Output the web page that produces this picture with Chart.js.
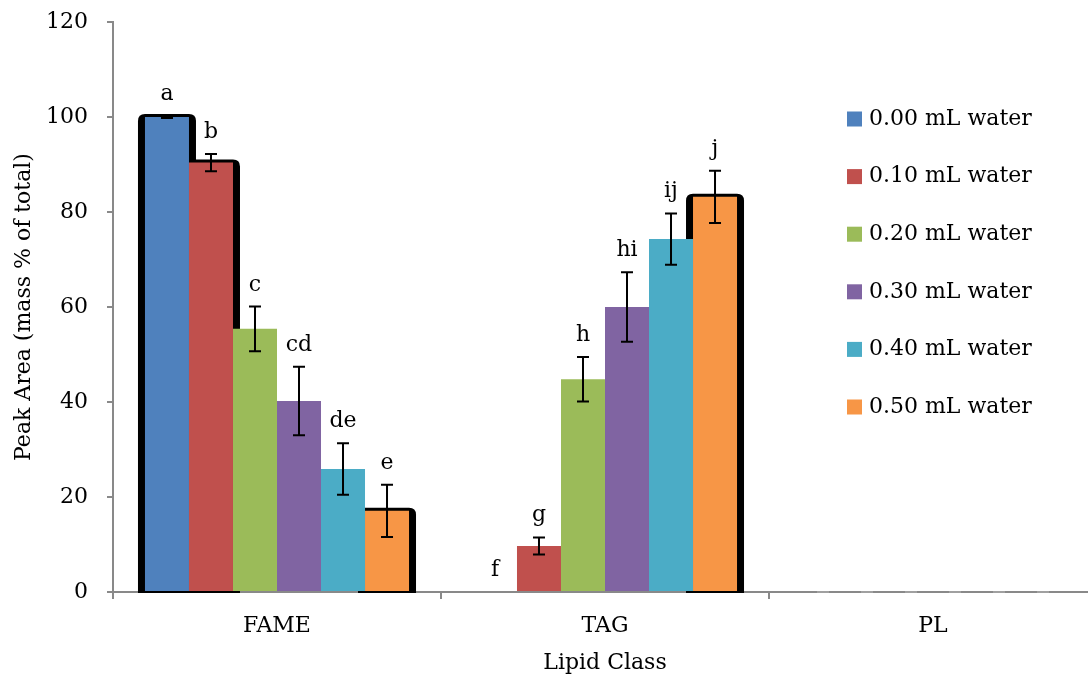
<!DOCTYPE html>
<html>
<head>
<meta charset="utf-8">
<script src="https://cdn.jsdelivr.net/npm/chart.js@4/dist/chart.umd.min.js"></script>
<style>
  html, body { margin: 0; padding: 0; background: #fff; overflow: hidden; }
  #wrap { width: 1100px; height: 677px; }
</style>
</head>
<body>
<div id="wrap"><canvas id="lipidChart" width="1100" height="677"></canvas></div>
<script>
const lipidClasses = ["FAME", "TAG", "PL"];
const seriesNames = ["0.00 mL water", "0.10 mL water", "0.20 mL water", "0.30 mL water", "0.40 mL water", "0.50 mL water"];

// peak area (mass % of total) per water level, in FAME / TAG / PL order
const water000 = [100.0, 0.0, 0];
const water010 = [90.4, 9.7, 0];
const water020 = [55.4, 44.8, 0];
const water030 = [40.2, 60.0, 0];
const water040 = [25.9, 74.3, 0];
const water050 = [17.1, 83.2, 0];

// error bar half-widths
const err000 = [0.2, 0, 0];
const err010 = [1.8, 1.8, 0];
const err020 = [4.7, 4.7, 0];
const err030 = [7.2, 7.3, 0];
const err040 = [5.4, 5.4, 0];
const err050 = [5.5, 5.5, 0];

// significance letters
const sig000 = ["a", "f", ""];
const sig010 = ["b", "g", ""];
const sig020 = ["c", "h", ""];
const sig030 = ["cd", "hi", ""];
const sig040 = ["de", "ij", ""];
const sig050 = ["e", "j", ""];

const yTicks = [0, 20, 40, 60, 80, 100, 120];

const values = [water000, water010, water020, water030, water040, water050];
const errors = [err000, err010, err020, err030, err040, err050];
const letters = [sig000, sig010, sig020, sig030, sig040, sig050];
const colors = ["#4F81BD", "#C0504D", "#9BBB59", "#8064A2", "#4BACC6", "#F79646"];

// bars that carry the heavy black outline in the original
const outlined = [[0, 0], [1, 0], [5, 0], [5, 1]];

const FONT = "'DejaVu Serif', serif";

function roundRect(ctx, x, y, w, h, r) {
    ctx.beginPath();
    ctx.moveTo(x + r, y);
    ctx.lineTo(x + w - r, y);
    ctx.quadraticCurveTo(x + w, y, x + w, y + r);
    ctx.lineTo(x + w, y + h);
    ctx.lineTo(x, y + h);
    ctx.lineTo(x, y + r);
    ctx.quadraticCurveTo(x, y, x + r, y);
    ctx.closePath();
}

const outlinePlugin = {
    id: "outlines",
    beforeDatasetsDraw(chart) {
        const ctx = chart.ctx;
        ctx.save();
        ctx.fillStyle = "#000";
        outlined.forEach(([d, i]) => {
            const bar = chart.getDatasetMeta(d).data[i];
            const p = bar.getProps(["x", "y", "base", "width"], true);
            roundRect(ctx, p.x - p.width / 2 - 7, p.y - 3, p.width + 14, p.base - p.y + 5, 7);
            ctx.fill();
        });
        ctx.restore();
    }
};

const errorPlugin = {
    id: "errorBars",
    afterDatasetsDraw(chart) {
        const ctx = chart.ctx;
        const yScale = chart.scales.y;
        ctx.save();
        chart.data.datasets.forEach((ds, d) => {
            chart.getDatasetMeta(d).data.forEach((bar, i) => {
                const v = ds.data[i];
                const e = errors[d][i];
                const x = bar.x;
                if (v === 0 && !letters[d][i]) {
                    ctx.strokeStyle = "#a0a0a0";
                    ctx.lineWidth = 2;
                    ctx.beginPath();
                    ctx.moveTo(x - 6, yScale.getPixelForValue(0));
                    ctx.lineTo(x + 6, yScale.getPixelForValue(0));
                    ctx.stroke();
                    return;
                }
                const yTop = yScale.getPixelForValue(v + e);
                const yBot = yScale.getPixelForValue(v - e);
                if (e > 0) {
                    ctx.strokeStyle = "#000";
                    ctx.lineWidth = 2;
                    ctx.beginPath();
                    ctx.moveTo(x, yTop);
                    ctx.lineTo(x, yBot);
                    ctx.moveTo(x - 6, yTop);
                    ctx.lineTo(x + 6, yTop);
                    ctx.moveTo(x - 6, yBot);
                    ctx.lineTo(x + 6, yBot);
                    ctx.stroke();
                }
                if (letters[d][i]) {
                    ctx.fillStyle = "#000";
                    ctx.font = "22px " + FONT;
                    ctx.textAlign = "center";
                    ctx.textBaseline = "alphabetic";
                    ctx.fillText(letters[d][i], x, yTop - 16);
                }
            });
        });
        ctx.restore();
    }
};

const legendPlugin = {
    id: "sideLegend",
    afterDraw(chart) {
        const ctx = chart.ctx;
        ctx.save();
        ctx.font = "22px " + FONT;
        ctx.textBaseline = "middle";
        ctx.textAlign = "left";
        chart.data.datasets.forEach((ds, d) => {
            const cy = 119 + d * 57.6;
            ctx.fillStyle = ds.backgroundColor;
            ctx.fillRect(847, cy - 7.5, 15, 15);
            ctx.fillStyle = "#000";
            ctx.fillText(ds.label, 869, cy);
        });
        ctx.restore();
    }
};

function renderChart() {
    const ctx = document.getElementById("lipidChart").getContext("2d");
    new Chart(ctx, {
        type: "bar",
        data: {
            labels: lipidClasses,
            datasets: seriesNames.map((name, d) => ({
                label: name,
                data: values[d],
                backgroundColor: colors[d],
                borderWidth: 0,
                barPercentage: 1.0,
                categoryPercentage: 0.805
            }))
        },
        options: {
            responsive: false,
            animation: false,
            layout: { padding: { top: 22, right: 3, left: 0, bottom: 0 } },
            plugins: {
                legend: { display: false },
                tooltip: { enabled: false }
            },
            scales: {
                x: {
                    grid: { drawOnChartArea: false, tickLength: 7, color: "#898989", lineWidth: 2 },
                    border: { color: "#898989", width: 2 },
                    ticks: { color: "#000", font: { family: FONT, size: 22 }, padding: 14 },
                    title: { display: true, text: "Lipid Class", color: "#000", font: { family: FONT, size: 22 }, padding: { top: 0, bottom: 1 } },
                    afterFit(scale) {
                        scale.height = 85;
                        scale.paddingLeft = 0;
                        scale.paddingRight = 0;
                    }
                },
                y: {
                    min: 0,
                    max: 120,
                    afterBuildTicks(scale) { scale.ticks = yTicks.map(v => ({ value: v })); },
                    grid: { drawOnChartArea: false, tickLength: 6, color: "#898989", lineWidth: 2 },
                    border: { color: "#898989", width: 2 },
                    ticks: { color: "#000", font: { family: FONT, size: 22 }, padding: 19 },
                    title: { display: true, text: "Peak Area (mass % of total)", color: "#000", font: { family: FONT, size: 22 }, padding: { top: 11, bottom: 0 } },
                    afterFit(scale) {
                        scale.width = 113;
                        scale.paddingTop = 0;
                        scale.paddingBottom = 0;
                    }
                }
            }
        },
        plugins: [outlinePlugin, errorPlugin, legendPlugin]
    });
}

document.addEventListener("DOMContentLoaded", function() {
    renderChart();
});
</script>
</body>
</html>
